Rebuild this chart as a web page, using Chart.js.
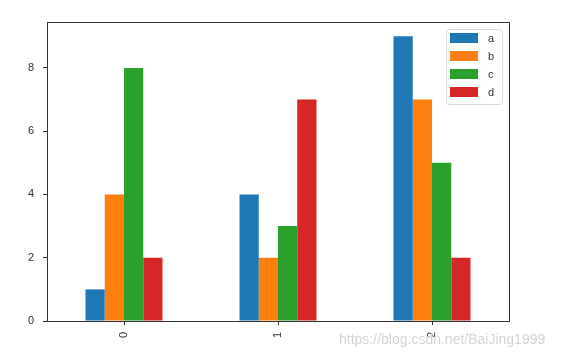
<!DOCTYPE html>
<html>
<head>
<meta charset="utf-8">
<script src="https://cdn.jsdelivr.net/npm/chart.js@4/dist/chart.umd.min.js"></script>
<style>
html,body{margin:0;padding:0;background:#fff;}
#wrap{width:582px;height:357px;position:relative;}
</style>
</head>
<body>
<div id="wrap"><canvas id="c" width="582" height="357"></canvas></div>
<script>
const categories = ['0', '1', '2'];
const seriesNames = ['a', 'b', 'c', 'd'];
const seriesA = [1, 4, 9];
const seriesB = [4, 2, 7];
const seriesC = [8, 3, 5];
const seriesD = [2, 7, 2];
const yTicks = [0, 2, 4, 6, 8];
const yMax = 9.45;
const watermark = 'https://blog.csdn.net/BaiJing1999';

const colors = ['#1f77b4', '#ff7f0e', '#2ca02c', '#d62728'];
const values = [seriesA, seriesB, seriesC, seriesD];
const fontFam = '"Liberation Sans", Arial, sans-serif';
const textColor = '#333333';

const framePlugin = {
  id: 'frame',
  afterDraw(chart) {
    const {ctx, chartArea: a} = chart;
    ctx.save();
    ctx.strokeStyle = '#333333';
    ctx.lineWidth = 1;
    ctx.strokeRect(Math.round(a.left) + 0.5, Math.round(a.top) + 0.5, Math.round(a.right - a.left), Math.round(a.bottom - a.top));
    // legend
    const lx = 446, ly = 29, lw = 56, lh = 75;
    ctx.fillStyle = 'rgba(255,255,255,0.85)';
    ctx.strokeStyle = '#d9d9d9';
    ctx.beginPath();
    if (ctx.roundRect) ctx.roundRect(lx + 0.5, ly + 0.5, lw, lh, 3); else ctx.rect(lx + 0.5, ly + 0.5, lw, lh);
    ctx.fill();
    ctx.stroke();
    chart.data.datasets.forEach((ds, i) => {
      const cy = 38 + i * 18;
      ctx.fillStyle = ds.backgroundColor;
      ctx.fillRect(450, cy - 5, 28, 10);
      ctx.fillStyle = textColor;
      ctx.font = '11px ' + fontFam;
      ctx.textBaseline = 'middle';
      ctx.textAlign = 'left';
      ctx.fillText(ds.label, 488, cy + 1);
    });
    // watermark
    ctx.fillStyle = '#d4d4d4';
    ctx.font = '14px ' + fontFam;
    ctx.textBaseline = 'alphabetic';
    ctx.textAlign = 'left';
    ctx.fillText(watermark, 339, 344);
    ctx.restore();
  }
};

new Chart(document.getElementById('c'), {
  type: 'bar',
  data: {
    labels: categories,
    datasets: seriesNames.map((n, i) => ({
      label: n,
      data: values[i],
      backgroundColor: colors[i],
      borderWidth: 0,
      categoryPercentage: 0.5,
      barPercentage: 1.0
    }))
  },
  options: {
    responsive: false,
    animation: false,
    devicePixelRatio: 1,
    layout: {padding: {left: 0, right: 73, top: 22, bottom: 0}},
    plugins: {legend: {display: false}, tooltip: {enabled: false}},
    scales: {
      x: {
        offset: true,
        grid: {display: true, drawOnChartArea: false, drawTicks: true, tickLength: 4, color: '#333333', offset: false},
        border: {display: false},
        ticks: {maxRotation: 90, minRotation: 90, padding: 7, color: textColor, font: {family: fontFam, size: 11}},
        afterFit(s) { s.height = 36; }
      },
      y: {
        min: 0,
        max: yMax,
        grid: {display: true, drawOnChartArea: false, drawTicks: true, tickLength: 4, color: '#333333'},
        border: {display: false},
        ticks: {padding: 9, color: textColor, font: {family: fontFam, size: 11}},
        afterBuildTicks(s) { s.ticks = yTicks.map(v => ({value: v})); },
        afterFit(s) { s.width = 47; }
      }
    }
  },
  plugins: [framePlugin]
});
</script>
</body>
</html>
